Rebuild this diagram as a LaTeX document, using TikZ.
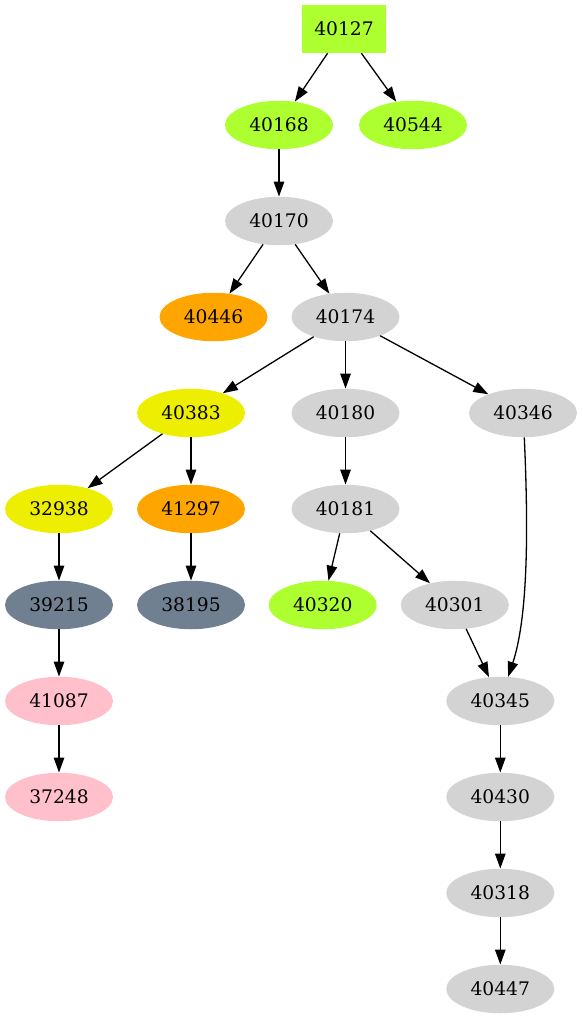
\documentclass[tikz,border=0pt]{standalone}
\usepackage{fontspec}
\setmainfont{DejaVu Serif}
\usetikzlibrary{arrows.meta,shapes.geometric}
\definecolor{cgreen}{HTML}{ADFF2F}
\definecolor{cgray}{HTML}{D3D3D3}
\definecolor{corange}{HTML}{FFA500}
\definecolor{cyellow}{HTML}{EEEE00}
\definecolor{cslate}{HTML}{708090}
\definecolor{cpink}{HTML}{FFC0CB}
\begin{document}
\begin{tikzpicture}[x=1pt,y=-1pt,
  every node/.style={font=\fontsize{18.67}{22}\selectfont, inner sep=0pt},
  el/.style={ellipse, minimum width=108pt, minimum height=48.5pt},
  boxnode/.style={rectangle, minimum width=84pt, minimum height=48pt},
  edge/.style={draw=black, line width=1.3pt, -{Triangle[length=15pt,width=10.5pt]}}
]
\useasboundingbox (0,0) rectangle (582,1019);
% nodes
\node[boxnode, fill=cgreen] (n40127) at (344,29) {40127};
\node[el, fill=cgreen] (n40168) at (279,125) {40168};
\node[el, fill=cgreen] (n40544) at (413,125) {40544};
\node[el, fill=cgray] (n40170) at (279,221) {40170};
\node[el, fill=corange] (n40446) at (213.5,317) {40446};
\node[el, fill=cgray] (n40174) at (345.5,317) {40174};
\node[el, fill=cyellow] (n40383) at (191,413) {40383};
\node[el, fill=cgray] (n40180) at (345.5,413) {40180};
\node[el, fill=cgray] (n40346) at (523,413) {40346};
\node[el, fill=cyellow] (n32938) at (59,509) {32938};
\node[el, fill=corange] (n41297) at (191,509) {41297};
\node[el, fill=cgray] (n40181) at (345.5,509) {40181};
\node[el, fill=cslate] (n39215) at (59,605) {39215};
\node[el, fill=cslate] (n38195) at (191,605) {38195};
\node[el, fill=cgreen] (n40320) at (322.7,605) {40320};
\node[el, fill=cgray] (n40301) at (454.8,605) {40301};
\node[el, fill=cpink] (n41087) at (59,701) {41087};
\node[el, fill=cgray] (n40345) at (500.3,701) {40345};
\node[el, fill=cpink] (n37248) at (59,797) {37248};
\node[el, fill=cgray] (n40430) at (500.3,797) {40430};
\node[el, fill=cgray] (n40318) at (500.3,893) {40318};
\node[el, fill=cgray] (n40447) at (500.3,989) {40447};
% edges
\draw[edge] (n40127) -- (n40168);
\draw[edge] (n40127) -- (n40544);
\draw[edge] (n40168) -- (n40170);
\draw[edge] (n40170) -- (n40446);
\draw[edge] (n40170) -- (n40174);
\draw[edge] (n40174) -- (n40383);
\draw[edge] (n40174) -- (n40180);
\draw[edge] (n40174) -- (n40346);
\draw[edge] (n40383) -- (n32938);
\draw[edge] (n40383) -- (n41297);
\draw[edge] (n40180) -- (n40181);
\draw[edge] (n32938) -- (n39215);
\draw[edge] (n41297) -- (n38195);
\draw[edge] (n40181) -- (n40320);
\draw[edge] (n40181) -- (n40301);
\draw[edge] (n39215) -- (n41087);
\draw[edge] (n41087) -- (n37248);
\draw[edge] (n40301) -- (n40345);
\draw[edge] (n40346.-87) .. controls (529,540) and (527,620) .. (n40345.72);
\draw[edge] (n40345) -- (n40430);
\draw[edge] (n40430) -- (n40318);
\draw[edge] (n40318) -- (n40447);
\end{tikzpicture}
\end{document}
